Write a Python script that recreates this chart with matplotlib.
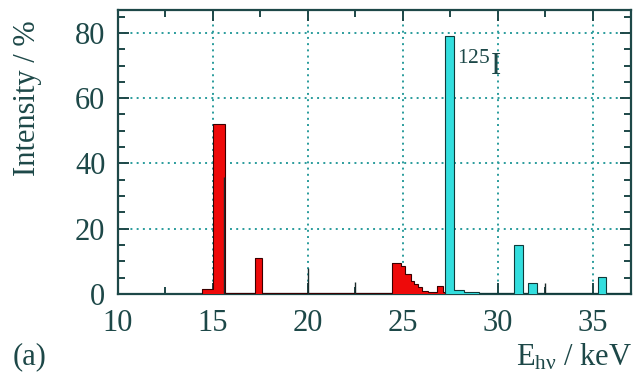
import matplotlib
matplotlib.use('Agg')
import matplotlib.pyplot as plt
from matplotlib.ticker import MultipleLocator

plt.rcParams['font.family'] = ['Liberation Serif', 'DejaVu Serif']
plt.rcParams['mathtext.fontset'] = 'custom'
plt.rcParams['mathtext.rm'] = 'Liberation Serif'
plt.rcParams['mathtext.it'] = 'Liberation Serif:italic'

# spectre du fluorophore (rouge) : bords des canaux et intensites en %
red_edges = [14.4, 15.0, 15.65, 17.2, 17.6, 24.4, 24.9, 25.1, 25.4, 25.6, 25.8, 26.0, 26.3, 26.8, 27.1, 27.2]
red_vals = [1.5, 52, 0.3, 11, 0.2, 9.5, 8.5, 6, 4, 3, 2, 1, 0.5, 2.5, 0.5]

# raies de l'iode 125 (cyan)
cyan_edges = [27.2, 27.7, 28.2, 29.0, 30.85, 31.3, 31.6, 32.05, 35.25, 35.7, 37.0]
cyan_vals = [79, 1.2, 0.5, 0.2, 15, 0.2, 3.5, 0.2, 5.2, 0.2]

# raies fines dessinees en trait noir
line_x = [15.6, 20.0, 22.5, 32.5]
line_h = [36, 8, 3.7, 3.5]

frame = '#1d4848'
grid_col = '#2a9c9c'

fig = plt.figure(figsize=(6.36, 3.86), dpi=100)
ax = fig.add_axes([0.1855, 0.2383, 0.8065, 0.7357])

ax.stairs(red_vals, red_edges, fill=True, facecolor='#ee0a0a', edgecolor='none', zorder=3)
ax.stairs(red_vals, red_edges, fill=False, edgecolor='#3a0000', linewidth=0.8, zorder=4)
ax.stairs(cyan_vals, cyan_edges, fill=True, facecolor='#33dede', edgecolor='none', zorder=3)
ax.stairs(cyan_vals, cyan_edges, fill=False, edgecolor='#103a3a', linewidth=0.8, zorder=4)
ax.vlines(line_x, 0, line_h, colors='#1a2a2a', linewidth=1.0, zorder=4)

ax.set_xlim(10, 37)
ax.set_ylim(0, 87)
ax.xaxis.set_major_locator(MultipleLocator(5))
ax.xaxis.set_minor_locator(MultipleLocator(2.5))
ax.yaxis.set_major_locator(MultipleLocator(20))
ax.yaxis.set_minor_locator(MultipleLocator(5))

ax.grid(True, which='major', color=grid_col, linestyle=(0, (1, 2.2)), linewidth=1.4, zorder=1)
ax.set_axisbelow(True)

ax.tick_params(which='both', direction='in', top=True, right=True, colors=frame,
               labelcolor=frame, labelsize=22, width=1.4)
ax.tick_params(which='major', length=8)
ax.tick_params(which='minor', length=5)
ax.tick_params(axis='y', pad=9)
ax.tick_params(axis='x', pad=11)
for s in ax.spines.values():
    s.set_color(frame)
    s.set_linewidth(1.6)

ax.set_ylabel('Intensity / %', fontsize=22, color=frame, va='center')
ax.yaxis.set_label_coords(-0.177, 0.69)
ax.text(27.85, 67, '$^{125}$I', fontsize=22, color=frame, zorder=5)

fig.text(0.994, 0.075, 'E$_\\mathrm{hν}$ / keV', ha='right', va='center', fontsize=22, color=frame)
fig.text(0.02, 0.075, '(a)', ha='left', va='center', fontsize=22, color=frame)

fig.savefig('out.png', dpi=100)
